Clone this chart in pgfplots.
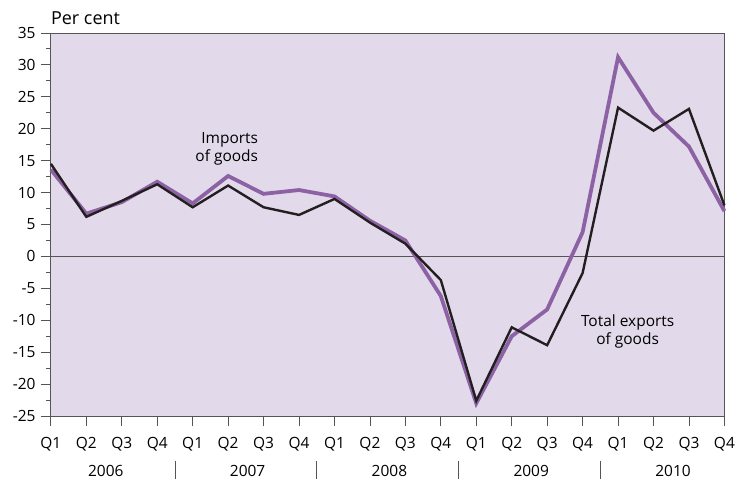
\documentclass[border=0pt]{standalone}
\usepackage{pgfplots}
\pgfplotsset{compat=1.18}
\usepackage{fontspec}
\setmainfont{Open Sans}
\definecolor{bgpurple}{HTML}{E2DAEA}
\definecolor{linepurple}{HTML}{8C62A5}
\definecolor{lineblack}{HTML}{231F20}
\definecolor{axisgray}{HTML}{555555}
\begin{document}
\fontsize{15.5pt}{18pt}\selectfont
\begin{tikzpicture}
\begin{axis}[
  scale only axis,
  width=675pt, height=384pt,
  xmin=0, xmax=19, ymin=-25, ymax=35,
  axis background/.style={fill=bgpurple},
  axis line style={axisgray, line width=0.8pt},
  tick style={axisgray, line width=0.8pt},
  tick align=outside,
  tick pos=left,
  major tick length=10pt,
  minor tick length=5pt,
  xtick={0,...,19},
  xticklabels={Q1,Q2,Q3,Q4,Q1,Q2,Q3,Q4,Q1,Q2,Q3,Q4,Q1,Q2,Q3,Q4,Q1,Q2,Q3,Q4},
  ytick={-25,-20,...,35},
  minor y tick num=1,
  yticklabel style={anchor=east, xshift=0pt},
  xticklabel style={anchor=base, yshift=-22pt},
  /pgf/number format/assume math mode=true,
  font=\fontsize{15.5pt}{18pt}\selectfont,
  clip=false,
]
\addplot[axisgray, line width=0.8pt] coordinates {(0,0) (19,0)};
\addplot[linepurple, line width=3.8pt, line join=miter] coordinates {
(0,13.6) (1,6.7) (2,8.5) (3,11.7) (4,8.3) (5,12.6) (6,9.8) (7,10.4)
(8,9.4) (9,5.6) (10,2.5) (11,-6.2) (12,-23.0) (13,-12.5) (14,-8.3) (15,3.8)
(16,31.2) (17,22.5) (18,17.2) (19,7.1)};
\addplot[lineblack, line width=2.4pt, line join=miter] coordinates {
(0,14.5) (1,6.2) (2,8.7) (3,11.3) (4,7.7) (5,11.1) (6,7.7) (7,6.5)
(8,9.0) (9,5.3) (10,2.0) (11,-3.7) (12,-22.6) (13,-11.1) (14,-13.9) (15,-2.6)
(16,23.3) (17,19.7) (18,23.1) (19,8.0)};
\node[align=right, anchor=base east, inner sep=0pt] at (axis cs:5.85,14.84) {Imports\\of goods};
\node[align=center, anchor=base, inner sep=0pt] at (axis cs:16.27,-13.75) {Total exports\\of goods};
\node[anchor=base, inner sep=0pt, yshift=-61pt] at (axis cs:1.55,-25) {2006};
\node[anchor=base, inner sep=0pt, yshift=-61pt] at (axis cs:5.55,-25) {2007};
\node[anchor=base, inner sep=0pt, yshift=-61pt] at (axis cs:9.55,-25) {2008};
\node[anchor=base, inner sep=0pt, yshift=-61pt] at (axis cs:13.55,-25) {2009};
\node[anchor=base, inner sep=0pt, yshift=-61pt] at (axis cs:17.55,-25) {2010};
\draw[axisgray, line width=0.8pt] ([yshift=-45pt]axis cs:3.5,-25) -- ([yshift=-63pt]axis cs:3.5,-25);
\draw[axisgray, line width=0.8pt] ([yshift=-45pt]axis cs:7.5,-25) -- ([yshift=-63pt]axis cs:7.5,-25);
\draw[axisgray, line width=0.8pt] ([yshift=-45pt]axis cs:11.5,-25) -- ([yshift=-63pt]axis cs:11.5,-25);
\draw[axisgray, line width=0.8pt] ([yshift=-45pt]axis cs:15.5,-25) -- ([yshift=-63pt]axis cs:15.5,-25);
\node[anchor=base west, inner sep=0pt, yshift=8pt, font=\fontsize{18pt}{20pt}\selectfont] at (axis cs:0,35) {Per cent};
\end{axis}
\path[use as bounding box] ([shift={(-51pt,-65pt)}]current axis.south west) rectangle ++(740pt,482pt);
\end{tikzpicture}
\end{document}
